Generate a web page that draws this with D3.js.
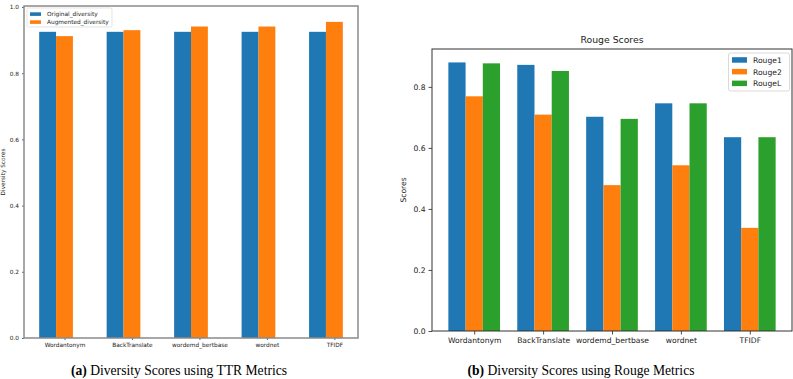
<!DOCTYPE html>
<html><head><meta charset="utf-8">
<script src="https://cdn.jsdelivr.net/npm/d3@7/dist/d3.min.js"></script>
<style>
html,body{margin:0;padding:0;background:#fff;}
svg{display:block;}
</style></head>
<body>
<svg id="chart" width="793" height="379" font-family="DejaVu Sans, sans-serif"></svg>
<script>
const categories = ["Wordantonym","BackTranslate","wordemd_bertbase","wordnet","TFIDF"];
const originalDiversity = [0.925,0.925,0.925,0.925,0.925];
const augmentedDiversity = [0.912,0.930,0.941,0.941,0.955];
const rouge1 = [0.880,0.872,0.702,0.746,0.635];
const rouge2 = [0.769,0.709,0.478,0.543,0.338];
const rougeL = [0.877,0.852,0.695,0.746,0.635];
const leftTicks = [0,0.2,0.4,0.6,0.8,1.0];
const rightTicks = [0,0.2,0.4,0.6,0.8];
const leftSeries = ["Original_diversity","Augmented_diversity"];
const rightSeries = ["Rouge1","Rouge2","RougeL"];
const colors = ["#1f77b4","#ff7f0e","#2ca02c"];

const svg = d3.select("#chart");
const SERIF = "'Liberation Serif', 'Times New Roman', serif";
const SANS = "'DejaVu Sans', sans-serif";

// ---------- Left chart ----------
(function(){
  const L=24,R=358,T=6,B=338, fs=5.8;
  const x = d3.scaleLinear().domain([-0.35,4.6]).range([L,R]);
  const y = d3.scaleLinear().domain([0,1.003]).range([B,T]);
  const bw = 0.25;
  const g = svg.append("g");
  const data=[originalDiversity,augmentedDiversity];
  data.forEach((vals,s)=>{
    g.selectAll(null).data(vals).enter().append("rect")
      .attr("x",(d,i)=>x(i+s*bw-bw/2))
      .attr("width",(d,i)=>x(i+s*bw+bw/2)-x(i+s*bw-bw/2))
      .attr("y",d=>y(d)).attr("height",d=>y(0)-y(d))
      .attr("fill",colors[s]);
  });
  const ya = g.append("g").attr("transform",`translate(${L},0)`)
    .call(d3.axisLeft(y).tickValues(leftTicks).tickFormat(d3.format(".1f")).tickSize(2).tickPadding(3));
  ya.select(".domain").remove();
  ya.attr("font-family",SANS);
  ya.selectAll("text").attr("font-size",fs).attr("fill","#222");
  ya.selectAll("line").attr("stroke","#666");
  const xa = g.append("g").attr("transform",`translate(0,${B})`)
    .call(d3.axisBottom(x).tickValues(categories.map((c,i)=>i+bw)).tickFormat((d,i)=>categories[i]).tickSize(2).tickPadding(3));
  xa.select(".domain").remove();
  xa.attr("font-family",SANS);
  xa.selectAll("text").attr("font-size",fs).attr("fill","#222");
  xa.selectAll("line").attr("stroke","#666");
  g.append("rect").attr("x",L).attr("y",T).attr("width",R-L).attr("height",B-T)
    .attr("fill","none").attr("stroke","#8a8a8a").attr("stroke-width",1.5);
  g.append("text").attr("transform",`translate(5,${(T+B)/2}) rotate(-90)`)
    .attr("text-anchor","middle").attr("font-size",fs).attr("fill","#222").text("Diversity Scores");
  const lg = g.append("g");
  lg.append("rect").attr("x",27).attr("y",8).attr("width",85).attr("height",19).attr("rx",1.5)
    .attr("fill","#fff").attr("fill-opacity",0.8).attr("stroke","#d8d8d8").attr("stroke-width",0.7);
  leftSeries.forEach((s,i)=>{
    lg.append("rect").attr("x",30).attr("y",12.3+i*8).attr("width",11).attr("height",3.6).attr("fill",colors[i]);
    lg.append("text").attr("x",47).attr("y",16.2+i*8).attr("font-size",fs).attr("fill","#222").text(s);
  });
  svg.append("text").attr("x",179).attr("y",375).attr("text-anchor","middle")
    .style("font-family",SERIF).attr("font-size",13.6).attr("fill","#000")
    .html('<tspan font-weight="bold">(a)</tspan> Diversity Scores using TTR Metrics');
})();

// ---------- Right chart ----------
(function(){
  const L=432,R=792,T=49,B=331, fs=7.6;
  const x = d3.scaleLinear().domain([-0.3625,4.8625]).range([L,R]);
  const y = d3.scaleLinear().domain([0,0.924]).range([B,T]);
  const bw = 0.25;
  const g = svg.append("g");
  const data=[rouge1,rouge2,rougeL];
  data.forEach((vals,s)=>{
    g.selectAll(null).data(vals).enter().append("rect")
      .attr("x",(d,i)=>x(i+s*bw-bw/2))
      .attr("width",(d,i)=>x(i+s*bw+bw/2)-x(i+s*bw-bw/2))
      .attr("y",d=>y(d)).attr("height",d=>y(0)-y(d))
      .attr("fill",colors[s]);
  });
  const ya = g.append("g").attr("transform",`translate(${L},0)`)
    .call(d3.axisLeft(y).tickValues(rightTicks).tickFormat(d3.format(".1f")).tickSize(3.5).tickPadding(3));
  ya.select(".domain").remove();
  ya.attr("font-family",SANS);
  ya.selectAll("text").attr("font-size",fs).attr("fill","#222");
  ya.selectAll("line").attr("stroke","#222").attr("stroke-width",0.8);
  const xa = g.append("g").attr("transform",`translate(0,${B})`)
    .call(d3.axisBottom(x).tickValues(categories.map((c,i)=>i+bw)).tickFormat((d,i)=>categories[i]).tickSize(3.5).tickPadding(3));
  xa.select(".domain").remove();
  xa.attr("font-family",SANS);
  xa.selectAll("text").attr("font-size",fs).attr("fill","#222");
  xa.selectAll("line").attr("stroke","#222").attr("stroke-width",0.8);
  g.append("rect").attr("x",L).attr("y",T).attr("width",R-L).attr("height",B-T)
    .attr("fill","none").attr("stroke","#333").attr("stroke-width",1);
  g.append("text").attr("transform",`translate(406,${(T+B)/2}) rotate(-90)`)
    .attr("text-anchor","middle").attr("font-size",fs).attr("fill","#222").text("Scores");
  g.append("text").attr("x",(L+R)/2).attr("y",43).attr("text-anchor","middle")
    .attr("font-size",9.3).attr("fill","#222").text("Rouge Scores");
  const lg = g.append("g");
  lg.append("rect").attr("x",728.5).attr("y",53).attr("width",61).attr("height",38).attr("rx",2)
    .attr("fill","#fff").attr("fill-opacity",0.8).attr("stroke","#d0d0d0").attr("stroke-width",0.8);
  rightSeries.forEach((s,i)=>{
    lg.append("rect").attr("x",732).attr("y",57.2+i*11.7).attr("width",15).attr("height",5.5).attr("fill",colors[i]);
    lg.append("text").attr("x",753).attr("y",62.8+i*11.7).attr("font-size",fs).attr("fill","#222").text(s);
  });
  svg.append("text").attr("x",581).attr("y",375).attr("text-anchor","middle")
    .style("font-family",SERIF).attr("font-size",13.6).attr("fill","#000")
    .html('<tspan font-weight="bold">(b)</tspan> Diversity Scores using Rouge Metrics');
})();
</script>
</body></html>
